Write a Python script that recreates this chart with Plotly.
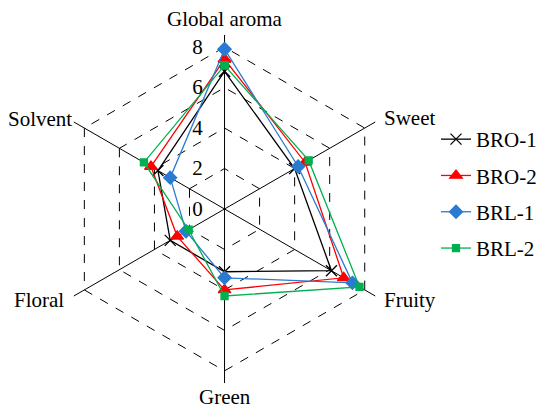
import plotly.graph_objects as go

categories = ["Global aroma", "Sweet", "Fruity", "Green", "Floral", "Solvent"]
series_names = ["BRO-1", "BRO-2", "BRL-1", "BRL-2"]
bro1 = [6.8, 4.0, 6.1, 3.1, 3.1, 3.8]
bro2 = [7.4, 4.6, 6.8, 4.0, 2.7, 4.2]
brl1 = [7.9, 4.2, 7.3, 3.4, 2.2, 3.1]
brl2 = [7.1, 4.8, 7.7, 4.3, 2.05, 4.6]
radial_ticks = [0, 2, 4, 6, 8]

values = [bro1, bro2, brl1, brl2]
colors = ["#000000", "#FF0000", "#2A7AD2", "#00B050"]
symbols = ["x-thin-open", "triangle-up", "diamond", "square"]
sizes = [11, 11, 10, 7]

W, H = 534, 400   # page body has an 8px margin
OFF = 8

fig = go.Figure()
for name, vals, col, sym, sz in zip(series_names, values, colors, symbols, sizes):
    fig.add_trace(go.Scatterpolar(
        r=vals + [vals[0]],
        theta=categories + [categories[0]],
        mode="lines+markers",
        name=name,
        legendgroup=name,
        line=dict(color=col, width=1.3),
        marker=dict(symbol=sym, size=sz, color=col,
                    line=dict(color=col, width=1.3)),
    ))

font_family = "Liberation Serif, Times New Roman, serif"
FS = 21

# category label positions (screen px: x, y centre)
label_pos = [(227, 19, "center"), (386, 118, "left"), (386, 300, "left"),
             (227, 397, "center"), (67, 300, "right"), (75, 119, "right")]
annotations = []
for cat, (px, py, anc) in zip(categories, label_pos):
    annotations.append(dict(
        text=cat, x=(px - OFF) / W, y=1 - (py - OFF) / H,
        xref="paper", yref="paper",
        xanchor=anc, yanchor="middle", showarrow=False,
        font=dict(family=font_family, size=FS, color="black")))

cx, cy, R = 227 - OFF, 209 - OFF, 176
fig.update_layout(
    width=W, height=H,
    margin=dict(l=0, r=0, t=0, b=0),
    paper_bgcolor="white",
    font=dict(family=font_family, size=FS, color="black"),
    annotations=annotations,
    polar=dict(
        domain=dict(x=[(cx - R) / W, (cx + R) / W],
                    y=[(H - cy - R) / H, (H - cy + R) / H]),
        bgcolor="white",
        gridshape="linear",
        angularaxis=dict(
            rotation=90, direction="clockwise",
            showline=False, ticks="", showticklabels=False,
            gridcolor="black", gridwidth=1,
        ),
        radialaxis=dict(
            range=[0, 8.6], angle=90, tickangle=90,
            tickvals=radial_ticks, ticktext=[str(t) for t in radial_ticks],
            showline=False, ticks="outside", ticklen=14,
            tickcolor="rgba(0,0,0,0)",
            gridcolor="black", gridwidth=1, griddash="dash",
            side="counterclockwise",
            tickfont=dict(family=font_family, size=FS, color="black"),
        ),
    ),
    legend=dict(x=(441 - OFF) / W, y=1 - (194 - OFF) / H, xanchor="left", yanchor="middle",
                font=dict(family=font_family, size=FS, color="black"),
                tracegroupgap=6,
                bgcolor="rgba(0,0,0,0)"),
    showlegend=True,
)

fig.write_html("out.html")
